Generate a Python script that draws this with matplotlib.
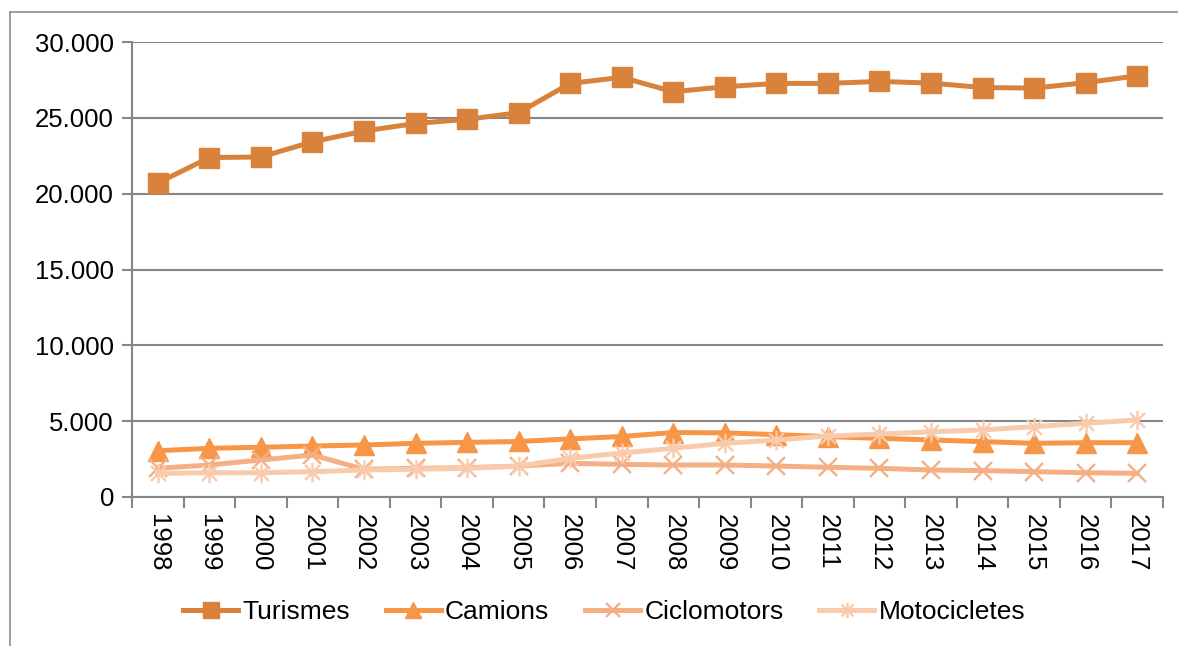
import matplotlib
matplotlib.use("Agg")
import matplotlib.pyplot as plt
from matplotlib.path import Path
from matplotlib.lines import Line2D
from matplotlib.ticker import FuncFormatter, FixedLocator

plt.rcParams['font.family'] = ['Liberation Sans', 'DejaVu Sans']

years = [str(y) for y in range(1998, 2018)]
turismes = [20700, 22380, 22420, 23420, 24130, 24630, 24900, 25340, 27270, 27670,
            26720, 27050, 27270, 27270, 27400, 27290, 27000, 26960, 27320, 27770]
camions = [3050, 3210, 3280, 3360, 3430, 3540, 3600, 3660, 3830, 3990,
           4250, 4230, 4110, 3980, 3870, 3760, 3650, 3540, 3580, 3580]
ciclomotors = [1890, 2110, 2440, 2770, 1830, 1890, 1930, 2040, 2220, 2150,
               2110, 2110, 2040, 1960, 1890, 1780, 1740, 1670, 1600, 1560]
motocicletes = [1560, 1600, 1600, 1670, 1780, 1830, 1890, 2040, 2550, 2900,
                3210, 3540, 3760, 4020, 4150, 4300, 4420, 4640, 4860, 5080]

series_names = ['Turismes', 'Camions', 'Ciclomotors', 'Motocicletes']
colors = ['#D9823B', '#F79646', '#F5AF85', '#F8CBAD']

star = Path([(-1, -1), (1, 1), (-1, 1), (1, -1), (0, -1.3), (0, 1.3)],
            [Path.MOVETO, Path.LINETO, Path.MOVETO, Path.LINETO, Path.MOVETO, Path.LINETO])

fig = plt.figure(figsize=(11.78, 6.46), dpi=100)
ax = fig.add_axes([132 / 1178, 1 - 497 / 646, (1163 - 132) / 1178, (497 - 42) / 646])

x = list(range(len(years)))
ax.plot(x, turismes, color=colors[0], lw=3.6, marker='s', ms=14, mec=colors[0],
        label=series_names[0], solid_joinstyle='round')
ax.plot(x, camions, color=colors[1], lw=3.6, marker='^', ms=14, mec=colors[1],
        label=series_names[1])
ax.plot(x, ciclomotors, color=colors[2], lw=3.6, marker='x', ms=13, mew=1.7,
        mec=colors[2], label=series_names[2])
ax.plot(x, motocicletes, color=colors[3], lw=3.6, marker=star, ms=14, mew=1.7,
        mec=colors[3], label=series_names[3])

ax.set_xlim(-0.5, len(years) - 0.5)
ax.set_ylim(0, 30000)
ax.set_yticks(range(0, 30001, 5000))
ax.yaxis.set_major_formatter(FuncFormatter(lambda v, p: f"{int(v):,}".replace(',', '.')))
ax.set_xticks(x)
ax.set_xticklabels(years, rotation=-90)
ax.xaxis.set_minor_locator(FixedLocator([i - 0.5 for i in range(len(years) + 1)]))
ax.tick_params(axis='x', which='major', length=0, labelsize=18.5, pad=12)
ax.tick_params(axis='x', which='minor', length=8, width=1.5, color='#868686')
ax.tick_params(axis='y', length=7, width=1.5, color='#868686', labelsize=18.5, pad=6)

ax.grid(axis='y', color='#868686', lw=1.5)
ax.set_axisbelow(True)
for s in ['top', 'right']:
    ax.spines[s].set_visible(False)
for s in ['left', 'bottom']:
    ax.spines[s].set_color('#868686')
    ax.spines[s].set_linewidth(1.5)

leg = fig.legend(loc='center', bbox_to_anchor=(604 / 1178, 1 - 612 / 646), ncol=4,
                 frameon=False, fontsize=19, handlelength=2.1, handletextpad=0.15,
                 columnspacing=1.35, markerscale=0.8)

fig.add_artist(Line2D([10 / 1178, 10 / 1178], [0, 1 - 12 / 646], transform=fig.transFigure,
                      color='#8C8C8C', lw=1.2))
fig.add_artist(Line2D([10 / 1178, 1], [1 - 12 / 646, 1 - 12 / 646], transform=fig.transFigure,
                      color='#8C8C8C', lw=1.2))

fig.savefig('out.png', dpi=100)
